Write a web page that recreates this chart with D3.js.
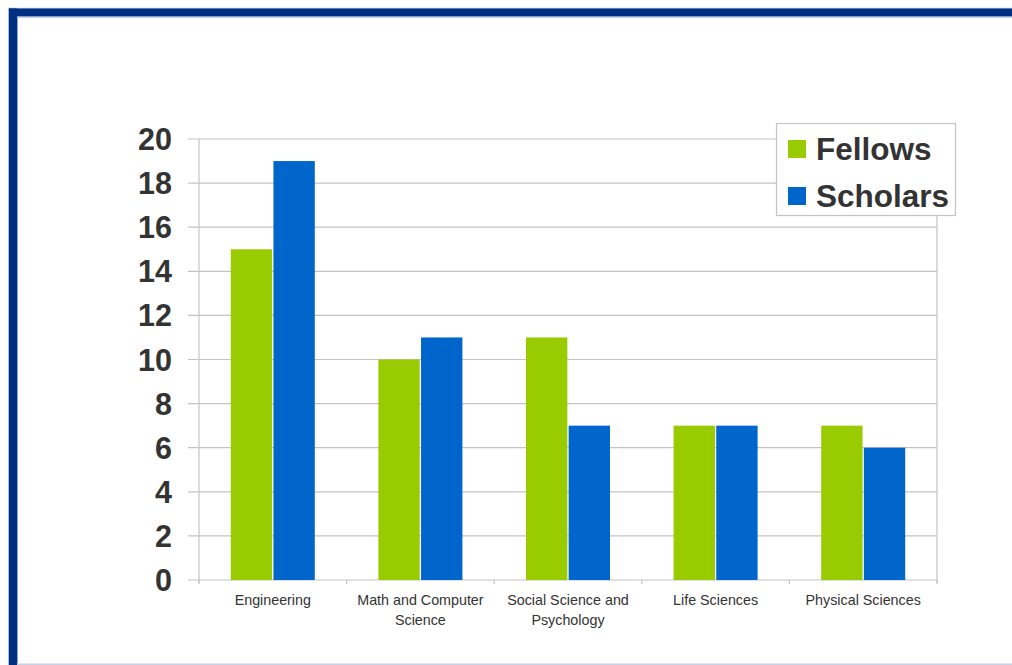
<!DOCTYPE html>
<html>
<head>
<meta charset="utf-8">
<script src="https://cdn.jsdelivr.net/npm/d3@7"></script>
<style>
  body { margin: 0; background: #fff; }
  svg { display: block; font-family: "Liberation Sans", Arial, sans-serif; }
</style>
</head>
<body>
<svg id="chart"></svg>
<script>
const categories = [["Engineering"], ["Math and Computer", "Science"], ["Social Science and", "Psychology"], ["Life Sciences"], ["Physical Sciences"]]
const seriesNames = ["Fellows", "Scholars"]
const fellows = [15, 10, 11, 7, 7]
const scholars = [19, 11, 7, 7, 6]
const yTicks = [0, 2, 4, 6, 8, 10, 12, 14, 16, 18, 20]
const colors = ["#99cc00", "#0066cc"]

let svgWidth = 1012
let svgHeight = 665

let svg = d3.select('#chart')
    .attr("width", svgWidth)
    .attr("height", svgHeight)

// frame
svg.append("rect").attr("x", 8).attr("y", 7.8).attr("width", svgWidth).attr("height", 1).attr("fill", "#a9bcdc")
svg.append("rect").attr("x", 8).attr("y", 7.8).attr("width", 1).attr("height", svgHeight).attr("fill", "#a9bcdc")
svg.append("rect").attr("x", 9).attr("y", 8.5).attr("width", svgWidth).attr("height", 8).attr("fill", "#003082")
svg.append("rect").attr("x", 9).attr("y", 8.5).attr("width", 8).attr("height", svgHeight).attr("fill", "#003082")
svg.append("rect").attr("x", 17).attr("y", 16.5).attr("width", svgWidth).attr("height", 1).attr("fill", "#8fa6cf")
svg.append("rect").attr("x", 17).attr("y", 16.5).attr("width", 1).attr("height", svgHeight).attr("fill", "#8fa6cf")
svg.append("rect").attr("x", 17).attr("y", 663.5).attr("width", svgWidth).attr("height", 1.5).attr("fill", "#c5d2e8")

let plotLeft = 199, plotRight = 937, plotTop = 139, plotBottom = 580

let x = d3.scaleBand()
    .domain(d3.range(categories.length))
    .range([plotLeft, plotRight])

let y = d3.scaleLinear()
    .domain([0, 20])
    .range([plotBottom, plotTop])

// gridlines
svg.append("g")
    .selectAll("line")
    .data(yTicks)
    .enter()
    .append("line")
    .attr("x1", plotLeft - 11)
    .attr("x2", plotRight)
    .attr("y1", d => y(d))
    .attr("y2", d => y(d))
    .attr("stroke", "#c4c4c4")
    .attr("stroke-width", 1.2)

// side borders
svg.append("line").attr("x1", plotLeft).attr("x2", plotLeft).attr("y1", plotTop).attr("y2", plotBottom + 3).attr("stroke", "#c4c4c4").attr("stroke-width", 1.2)
svg.append("line").attr("x1", plotRight).attr("x2", plotRight).attr("y1", plotTop).attr("y2", plotBottom + 3).attr("stroke", "#c4c4c4").attr("stroke-width", 1.2)

// category ticks
svg.append("g")
    .selectAll("line")
    .data(d3.range(categories.length + 1))
    .enter()
    .append("line")
    .attr("x1", d => plotLeft + d * x.bandwidth())
    .attr("x2", d => plotLeft + d * x.bandwidth())
    .attr("y1", plotBottom)
    .attr("y2", plotBottom + 4)
    .attr("stroke", "#c4c4c4")
    .attr("stroke-width", 1.2)

let x1 = d3.scaleBand()
    .domain([0, 1])
    .range([0, 84])
    .paddingInner(0.03)

let values = [fellows, scholars]
values.forEach((series, s) => {
    svg.append("g")
        .selectAll("rect")
        .data(series)
        .enter()
        .append("rect")
        .attr("x", (d, i) => x(i) + x.bandwidth() / 2 - 42 + x1(s))
        .attr("y", d => y(d))
        .attr("width", x1.bandwidth())
        .attr("height", d => plotBottom - y(d))
        .attr("fill", colors[s])
})

// y labels
svg.append("g")
    .selectAll("text")
    .data(yTicks)
    .enter()
    .append("text")
    .text(d => d)
    .attr("x", 172)
    .attr("y", d => y(d) + 11)
    .attr("text-anchor", "end")
    .attr("font-size", 30.5)
    .attr("font-weight", "bold")
    .attr("fill", "#333333")

// x labels
let xl = svg.append("g")
    .selectAll("text")
    .data(categories)
    .enter()
    .append("text")
    .attr("x", (d, i) => x(i) + x.bandwidth() / 2)
    .attr("y", 605)
    .attr("text-anchor", "middle")
    .attr("font-size", 14.3)
    .attr("fill", "#333333")
xl.selectAll("tspan")
    .data(d => d)
    .enter()
    .append("tspan")
    .attr("x", function () { return d3.select(this.parentNode).attr("x") })
    .attr("dy", (d, i) => i == 0 ? 0 : 20)
    .text(d => d)

// legend
let legend = svg.append("g")
legend.append("rect")
    .attr("x", 776.5).attr("y", 123.5)
    .attr("width", 179).attr("height", 92)
    .attr("fill", "#fff")
    .attr("stroke", "#c4c4c4")
    .attr("stroke-width", 1.2)
seriesNames.forEach((name, i) => {
    legend.append("rect")
        .attr("x", 788).attr("y", 140 + i * 47)
        .attr("width", 18).attr("height", 18)
        .attr("fill", colors[i])
    legend.append("text")
        .attr("x", 816).attr("y", 160 + i * 47)
        .attr("font-size", 31.5)
        .attr("font-weight", "bold")
        .attr("fill", "#333333")
        .text(name)
})
</script>
</body>
</html>
